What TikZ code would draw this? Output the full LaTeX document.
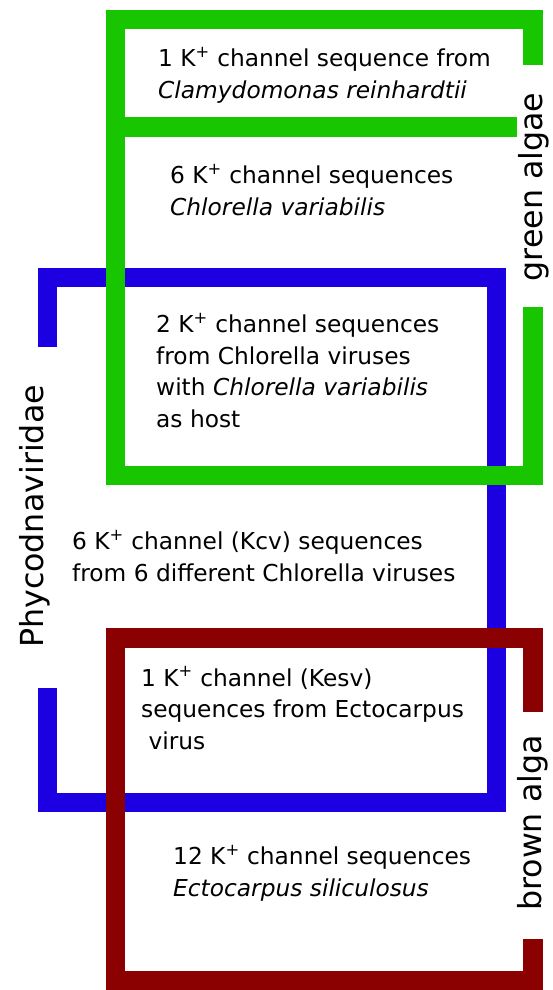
\documentclass[tikz,border=0pt]{standalone}
\usepackage{fontspec}
\setmainfont{DejaVu Sans}
\definecolor{galg}{RGB}{24,198,0}
\definecolor{phyco}{RGB}{28,0,226}
\definecolor{balg}{RGB}{139,0,0}
\begin{document}
\begin{tikzpicture}[x=1pt,y=-1pt,
  body/.style={anchor=base west, align=left, inner sep=0pt, font=\fontsize{23.3}{31.5}\selectfont},
  side/.style={anchor=base, rotate=90, inner sep=0pt, font=\fontsize{31.7}{36}\selectfont}]
\useasboundingbox (0,0) rectangle (553,990);
% Phycodnaviridae bracket (blue)
\fill[phyco] (38,268) rectangle (506,287);
\fill[phyco] (38,268) rectangle (57,347);
\fill[phyco] (487,268) rectangle (506,812);
\fill[phyco] (38,793) rectangle (506,812);
\fill[phyco] (38,688) rectangle (57,812);
% green algae bracket
\fill[galg] (106,10) rectangle (543,29);
\fill[galg] (106,10) rectangle (125,485);
\fill[galg] (523,10) rectangle (543,65);
\fill[galg] (106,117) rectangle (517,137);
\fill[galg] (523,307) rectangle (543,485);
\fill[galg] (106,466) rectangle (543,485);
% brown alga bracket
\fill[balg] (106,628) rectangle (543,648);
\fill[balg] (106,628) rectangle (125,990);
\fill[balg] (523,628) rectangle (543,712);
\fill[balg] (523,939) rectangle (543,990);
\fill[balg] (106,971) rectangle (543,990);
% texts (anchored at the baseline of the last line)
\node[body] (t1) at (158,98) {1 K\textsuperscript{+} channel sequence from\\\textit{Clamydomonas reinhardtii}};
\node[body] (t2) at (170,215) {6 K\textsuperscript{+} channel sequences\\\textit{Chlorella variabilis}};
\node[body] (t3) at (156,427) {2 K\textsuperscript{+} channel sequences\\from Chlorella viruses\\with \textit{Chlorella variabilis}\\as host};
\node[body] (t4) at (72,581) {6 K\textsuperscript{+} channel (Kcv) sequences\\from 6 different Chlorella viruses};
\node[body] (t5) at (141,749) {1 K\textsuperscript{+} channel (Kesv)\\sequences from Ectocarpus\\\ virus};
\node[body] (t6) at (173,896) {12 K\textsuperscript{+} channel sequences\\\textit{Ectocarpus siliculosus}};
\node[side] (lg) at (542,187) {green algae};
\node[side] (lp) at (43,516.5) {Phycodnaviridae};
\node[side] (lb) at (541,823) {brown alga};
\end{tikzpicture}
\end{document}
